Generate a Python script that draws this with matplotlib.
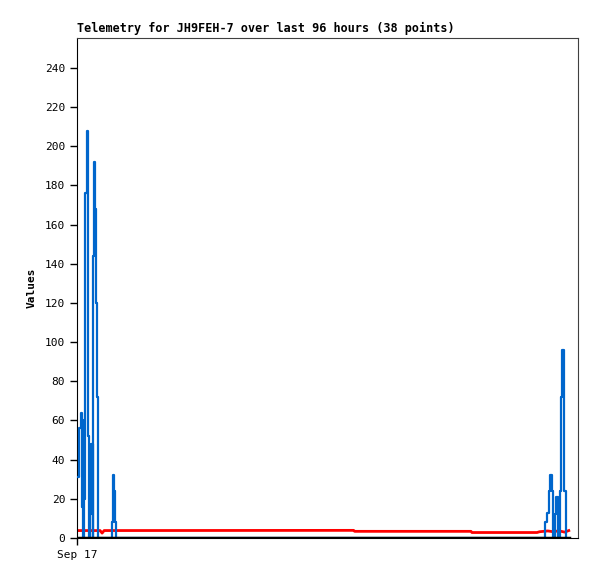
import matplotlib
matplotlib.use("Agg")
import matplotlib.pyplot as plt

# hours since Sep 17 00:00
blue_t = [0.2, 0.45, 0.72, 0.92, 1.11, 1.15, 1.31, 1.37, 1.5, 1.62, 1.89, 2.09, 2.2,
          2.34, 2.54, 2.67, 2.87, 2.99, 3.06, 3.18, 3.38, 3.57, 3.71, 3.84, 4.04, 4.16,
          6.6, 6.77, 6.96, 7.16, 7.41, 7.61,
          91.3, 91.45, 91.77, 92.1, 92.43, 92.68, 92.88, 93.0, 93.4, 93.6, 93.8, 93.99,
          94.38, 94.57, 94.77, 94.97, 95.16, 95.36]
blue_v = [31, 56, 64, 16, 48, 0, 60, 20, 112, 176, 208, 156, 52,
          0, 12, 48, 12, 48, 0, 144, 192, 168, 120, 72, 24, 0,
          0, 8, 32, 24, 8, 0,
          0, 8, 13, 24, 32, 24, 8, 0, 12, 21, 12, 0,
          24, 72, 96, 72, 24, 0]

red_t = [0.2, 3.7, 4.5, 4.9, 5.3, 54.0, 54.2, 76.9, 77.1, 89.8, 90.3, 91.9, 92.7, 94.2, 95.2, 96.0]
red_v = [3.8, 3.8, 3.8, 2.5, 3.8, 3.9, 3.4, 3.4, 2.8, 2.8, 3.2, 3.6, 3.3, 3.6, 3.0, 3.8]

black_t = [0.2, 96.0]
black_v = [0, 0]

title = "Telemetry for JH9FEH-7 over last 96 hours (38 points)"
y_ticks = list(range(0, 241, 20))

plt.rcParams['font.family'] = ['DejaVu Sans Mono']

fig = plt.figure(figsize=(5.97, 5.79), dpi=100)
ax = fig.add_axes([77 / 597, 41 / 579, 501 / 597, 500 / 579])

ax.plot(red_t, red_v, color='#ff0000', lw=2, zorder=2)
ax.plot(blue_t, blue_v, color='#0066cc', lw=1.6, zorder=3, drawstyle='steps-post')
ax.plot(black_t, black_v, color='#000000', lw=2.5, zorder=4)

ax.set_xlim(0, 97.8)
ax.set_ylim(0, 255.3)
ax.set_yticks(y_ticks)
ax.set_xticks([0])
ax.set_xticklabels(["Sep 17"])
ax.tick_params(axis='both', direction='out', length=5, width=1, labelsize=8, colors='#000000')
ax.set_ylabel("Values", fontsize=8, fontweight='bold', labelpad=6)
ax.set_title(title, fontsize=8.5, fontweight='bold', loc='left', pad=4)

for side in ['top', 'right']:
    ax.spines[side].set_color('#404040')
for side in ['left', 'bottom']:
    ax.spines[side].set_color('#000000')

fig.savefig("out.png", dpi=100)
